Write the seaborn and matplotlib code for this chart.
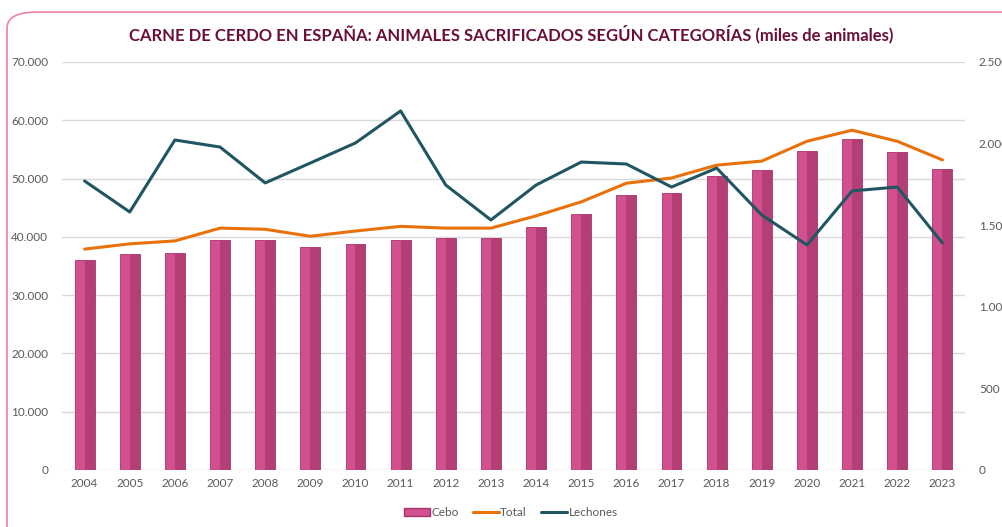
import matplotlib
matplotlib.use("Agg")
import pandas as pd
import seaborn as sns
import matplotlib.pyplot as plt
from matplotlib.patches import FancyBboxPatch, Patch
from matplotlib.lines import Line2D
from matplotlib.ticker import FuncFormatter

years = [str(y) for y in range(2004, 2024)]
cebo = [36000, 37050, 37200, 39450, 39450, 38250, 38800, 39450, 39800, 39800,
        41700, 43900, 47200, 47500, 50400, 51500, 54700, 56800, 54500, 51600]
total = [37900, 38800, 39300, 41500, 41300, 40100, 41000, 41800, 41500, 41500,
         43600, 46000, 49200, 50100, 52300, 53000, 56400, 58300, 56400, 53200]
lechones = [1771, 1581, 2022, 1979, 1759, 1881, 2004, 2200, 1746, 1532,
            1746, 1887, 1875, 1734, 1850, 1562, 1379, 1710, 1734, 1391]

df = pd.DataFrame({"year": years, "Cebo": cebo, "Total": total, "Lechones": lechones})

sns.set_style("white")
plt.rcParams["font.family"] = ["Lato", "DejaVu Sans"]

pink = "#d2508e"
pink_dark = "#b33f76"
orange = "#e8710a"
teal = "#1f5662"
grey = "#595959"
bar_w = 0.44

fig = plt.figure(figsize=(10.02, 5.27), dpi=100)
frame = FancyBboxPatch((0.007, -0.05), 1.2, 1.027, boxstyle="round,pad=0,rounding_size=0.03",
                       transform=fig.transFigure, facecolor="none", edgecolor="#ee7fa8",
                       linewidth=1.2)
fig.patches.append(frame)

ax = fig.add_axes([62 / 1002, 1 - 470 / 527, 903 / 1002, 408 / 527])
sns.barplot(data=df, x="year", y="Cebo", color=pink, width=bar_w, saturation=1,
            edgecolor="#a8336b", linewidth=0.6, ax=ax, zorder=2)
# darker right face for the 3D look
xs = list(range(len(years)))
ax.bar([x + bar_w / 4 for x in xs], df["Cebo"], width=bar_w / 2, color=pink_dark,
       linewidth=0, zorder=2.1)
sns.lineplot(x=xs, y=df["Total"], color=orange, linewidth=2.2, ax=ax, zorder=3)
ax.set_ylim(0, 70000)
ax.set_xlim(-0.5, len(years) - 0.5)
ax.set_yticks(range(0, 70001, 10000))
ax.yaxis.set_major_formatter(FuncFormatter(lambda v, p: f"{int(v):,}".replace(",", ".")))
ax.grid(axis="y", color="#d9d9d9", linewidth=1, zorder=0)
ax.set_axisbelow(True)
ax.set_xlabel("")
ax.set_ylabel("")
for s in ax.spines.values():
    s.set_visible(False)
ax.tick_params(axis="both", length=0, labelsize=8.5, labelcolor=grey, pad=10)
ax.tick_params(axis="x", pad=6)

ax2 = ax.twinx()
sns.lineplot(x=xs, y=df["Lechones"], color=teal, linewidth=2.2, ax=ax2, zorder=3)
ax2.set_ylim(0, 2500)
ax2.set_yticks(range(0, 2501, 500))
ax2.yaxis.set_major_formatter(FuncFormatter(lambda v, p: f"{int(v):,}".replace(",", ".")))
ax2.set_ylabel("")
for s in ax2.spines.values():
    s.set_visible(False)
ax2.tick_params(axis="y", length=0, labelsize=8.5, labelcolor=grey, pad=10)
ax2.grid(False)

fig.text(0.51, 0.935, "CARNE DE CERDO EN ESPAÑA: ANIMALES SACRIFICADOS SEGÚN CATEGORÍAS (miles de animales)",
         ha="center", va="center", fontsize=12, fontweight="bold", color="#6b0f3a")

handles = [Patch(facecolor=pink, edgecolor="#a8336b"),
           Line2D([], [], color=orange, linewidth=2.2),
           Line2D([], [], color=teal, linewidth=2.2)]
fig.legend(handles, ["Cebo", "Total", "Lechones"], loc="center", bbox_to_anchor=(0.51, 0.027),
           ncol=3, frameon=False, fontsize=8.5, labelcolor=grey, handlelength=2.2,
           handletextpad=0.1, columnspacing=1.2)

plt.savefig("out.png", dpi=100)
